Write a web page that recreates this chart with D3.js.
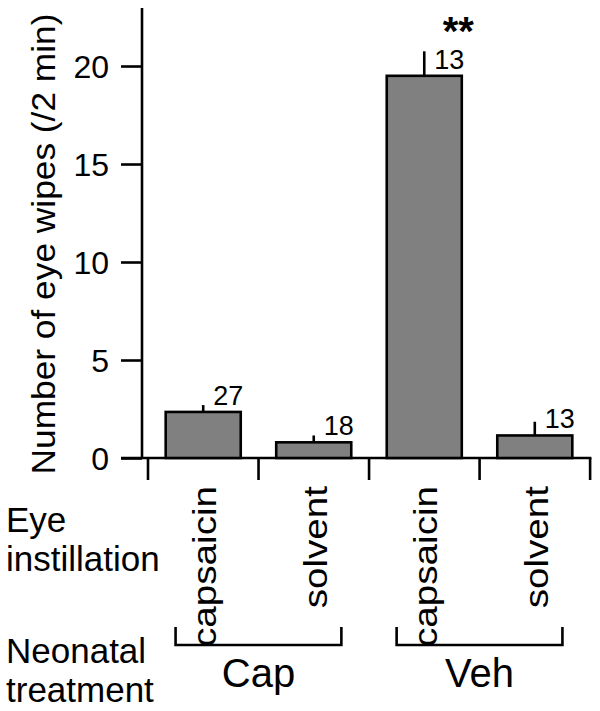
<!DOCTYPE html>
<html>
<head>
<meta charset="utf-8">
<script src="https://cdn.jsdelivr.net/npm/d3@7"></script>
<style>
  html, body { margin: 0; padding: 0; background: #fff; }
  svg { display: block; font-family: "Liberation Sans", Arial, Helvetica, sans-serif; }
</style>
</head>
<body>
<svg id="chart" width="600" height="711"></svg>
<script>
// ---- data ----
const categories = ["capsaicin", "solvent", "capsaicin", "solvent"];
const groups = ["Cap", "Veh"];
const groupOf = [0, 0, 1, 1];
const means = [2.35, 0.8, 19.5, 1.15];
const sems = [0.35, 0.35, 1.25, 0.7];
const nLabels = ["27", "18", "13", "13"];
const significance = ["", "", "**", ""];
const yTicks = [0, 5, 10, 15, 20];
const yTitle = "Number of eye wipes (/2 min)";
const rowLabels = [["Eye", "instillation"], ["Neonatal", "treatment"]];

// ---- layout ----
const svg = d3.select("#chart");
const axisX = 142, y0 = 458, yTop = 8;
const lw = 2.6;

const y = d3.scaleLinear().domain([0, 22.96]).range([y0, yTop]);
const x = d3.scaleBand().domain(d3.range(categories.length)).range([148, 590])
  .paddingInner(0.321).paddingOuter(0.16);
const step = x.step();

// y axis
const yAxis = d3.axisLeft(y).tickValues(yTicks).tickSize(21).tickPadding(12).tickSizeOuter(0);
const gy = svg.append("g").attr("transform", `translate(${axisX},0)`).call(yAxis);
gy.select(".domain").attr("stroke", "#000").attr("stroke-width", lw)
  .attr("d", `M0,${yTop}V${y0}`);
gy.selectAll(".tick line").attr("stroke", "#000").attr("stroke-width", lw);
gy.selectAll(".tick text").attr("font-size", 32).attr("fill", "#000")
  .attr("font-family", "Liberation Sans, Arial, sans-serif").attr("dy", "0.36em");

// x axis baseline and band boundary ticks
const boundaries = d3.range(categories.length + 1).map(i => 148 + i * step);
svg.append("line").attr("x1", axisX - 21).attr("x2", boundaries[boundaries.length - 1] + lw / 2)
  .attr("y1", y0).attr("y2", y0).attr("stroke", "#000").attr("stroke-width", lw);
svg.selectAll(".xtick").data(boundaries).join("line").attr("class", "xtick")
  .attr("x1", d => d).attr("x2", d => d).attr("y1", y0).attr("y2", y0 + 22)
  .attr("stroke", "#000").attr("stroke-width", lw);

// error bars (upward only)
svg.selectAll(".err").data(means).join("line").attr("class", "err")
  .attr("x1", (d, i) => x(i) + x.bandwidth() / 2).attr("x2", (d, i) => x(i) + x.bandwidth() / 2)
  .attr("y1", d => y(d)).attr("y2", (d, i) => y(d + sems[i]))
  .attr("stroke", "#000").attr("stroke-width", lw);

// bars
svg.selectAll(".bar").data(means).join("rect").attr("class", "bar")
  .attr("x", (d, i) => x(i)).attr("width", x.bandwidth())
  .attr("y", d => y(d)).attr("height", d => y(0) - y(d))
  .attr("fill", "#808080").attr("stroke", "#000").attr("stroke-width", lw);

// n labels
svg.selectAll(".nlab").data(nLabels).join("text").attr("class", "nlab")
  .attr("x", (d, i) => x(i) + x.bandwidth() / 2 + 10)
  .attr("y", (d, i) => y(means[i]) - 7)
  .attr("font-size", 27).text(d => d);

// significance
svg.selectAll(".sig").data(significance).join("text").attr("class", "sig")
  .attr("x", (d, i) => x(i) + x.bandwidth() / 2 + 34)
  .attr("y", (d, i) => y(means[i] + sems[i]) - 6)
  .attr("font-size", 40).attr("font-weight", "bold").attr("text-anchor", "middle")
  .text(d => d);

// y title
svg.append("text")
  .attr("transform", `translate(55,${(yTop + y0) / 2 + 11}) rotate(-90) scale(1.07,1)`)
  .attr("text-anchor", "middle").attr("font-size", 33).text(yTitle);

// rotated category labels
svg.selectAll(".cat").data(categories).join("text").attr("class", "cat")
  .attr("transform", (d, i) => `translate(${x(i) + x.bandwidth() / 2 + 13},486) rotate(-90) scale(1.17,1)`)
  .attr("text-anchor", "end").attr("font-size", 33).text(d => d);

// row labels
rowLabels.forEach((lines, r) => {
  const base = r === 0 ? 532 : 663;
  lines.forEach((t, k) => {
    svg.append("text").attr("x", 6).attr("y", base + k * 39).attr("font-size", 35).text(t);
  });
});

// group brackets
groups.forEach((g, gi) => {
  const idx = d3.range(categories.length).filter(i => groupOf[i] === gi);
  const c0 = x(idx[0]) + x.bandwidth() / 2, c1 = x(idx[idx.length - 1]) + x.bandwidth() / 2;
  const cx = (c0 + c1) / 2, half = 0.75 * step;
  svg.append("path")
    .attr("d", `M${cx - half},627V645H${cx + half}V627`)
    .attr("fill", "none").attr("stroke", "#000").attr("stroke-width", lw);
  svg.append("text").attr("x", cx).attr("y", 687).attr("text-anchor", "middle")
    .attr("font-size", 40).text(g);
});
</script>
</body>
</html>
